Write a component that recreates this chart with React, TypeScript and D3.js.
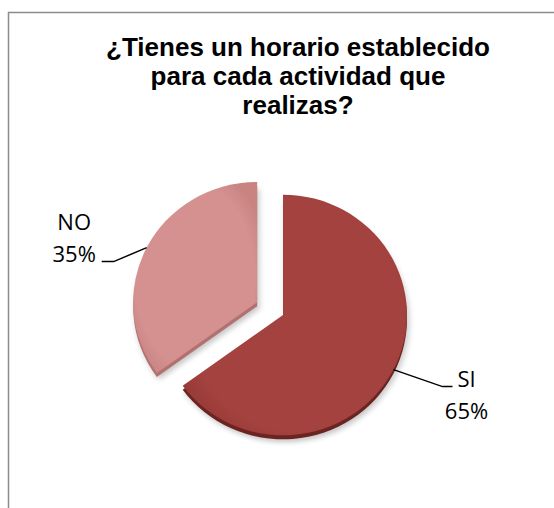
import * as d3 from 'd3';

const W = 554;
const H = 508;

// chart data
const categories = ['SI', 'NO'];
const values = [65, 35];
const titleLines = ['¿Tienes un horario establecido', 'para cada actividad que', 'realizas?'];

// styling / layout
const topColors = ['#a3423f', '#d4918f'];
const edgeColors = ['#953835', '#c98482'];
const sideColors = ['#6c2422', '#b27170'];
const explode = [0, 29];
const cx = 283;
const cy = 315;
const radius = 124;
const squash = 0.97;
const depth = 4;
// elbow offset from the slice edge and tail direction for each label
const leaderElbow = [[49, 17], [-33, 14]];
const leaderTail = [10, -12];

export default function App() {
  const pie = d3.pie<number>().sort(null).startAngle(0).endAngle(2 * Math.PI);
  const arcs = pie(values);
  const arc = d3.arc<d3.PieArcDatum<number>>().innerRadius(0).outerRadius(radius);

  const total = d3.sum(values);

  return (
    <svg
      width={W}
      height={H}
      style={{ position: 'absolute', left: 0, top: 0, background: '#fff' }}
    >
      <defs>
        <filter id="blur" x="-20%" y="-20%" width="140%" height="140%">
          <feGaussianBlur stdDeviation="3" />
        </filter>
        {arcs.map((a, i) => (
          <radialGradient key={i} id={`grad-${i}`} cx="50%" cy="50%" r="60%">
            <stop offset="0%" stopColor={topColors[i]} />
            <stop offset="80%" stopColor={topColors[i]} />
            <stop offset="100%" stopColor={edgeColors[i]} />
          </radialGradient>
        ))}
      </defs>

      {/* chart frame */}
      <rect x={8.5} y={12.5} width={620} height={620} fill="#fff" stroke="#8c8c8c" strokeWidth={1.5} />

      {/* title */}
      <text
        x={298}
        textAnchor="middle"
        fontFamily="'Liberation Sans', Arial, sans-serif"
        fontWeight="bold"
        fontSize={26}
        fill="#000"
      >
        {titleLines.map((line, i) => (
          <tspan key={i} x={298} y={56 + i * 29}>{line}</tspan>
        ))}
      </text>

      {/* pie */}
      <g transform={`translate(${cx},${cy})`}>
        {arcs.map((a, i) => {
          const mid = (a.startAngle + a.endAngle) / 2;
          const ox = Math.sin(mid) * explode[i];
          const oy = -Math.cos(mid) * explode[i] * squash;
          const d = arc(a) || '';
          return (
            <g key={i} transform={`translate(${ox},${oy})`}>
              <path d={d} transform={`translate(2,${depth + 3}) scale(1,${squash})`} fill="#000" opacity={0.22} filter="url(#blur)" />
              <path d={d} transform={`translate(0,${depth}) scale(1,${squash})`} fill={sideColors[i]} />
              <path d={d} transform={`scale(1,${squash})`} fill={`url(#grad-${i})`} />
            </g>
          );
        })}
      </g>

      {/* leader lines and labels */}
      {arcs.map((a, i) => {
        const mid = (a.startAngle + a.endAngle) / 2;
        const rr = radius + explode[i];
        const ex = cx + Math.sin(mid) * rr;
        const ey = cy - Math.cos(mid) * rr * squash;
        const bx = ex + leaderElbow[i][0];
        const by = ey + leaderElbow[i][1];
        const tx = bx + leaderTail[i];
        const right = leaderTail[i] > 0;
        const labelX = right ? tx + 14 : tx - 27.5;
        const labelY = right ? by : by - 32;
        const pct = `${Math.round((values[i] / total) * 100)}%`;
        return (
          <g key={i}>
            <polyline
              points={`${ex},${ey} ${bx},${by} ${tx},${by}`}
              fill="none"
              stroke="#000"
              strokeWidth={1.5}
            />
            <text
              textAnchor="middle"
              fontFamily="'Open Sans', sans-serif"
              fontSize={22}
              fill="#000"
            >
              <tspan x={labelX} y={labelY}>{categories[i]}</tspan>
              <tspan x={labelX} y={labelY + 32}>{pct}</tspan>
            </text>
          </g>
        );
      })}
    </svg>
  );
}
